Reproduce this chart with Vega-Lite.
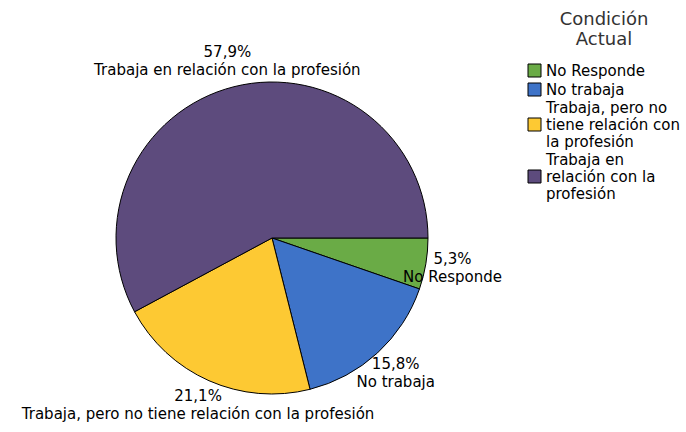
{
  "$schema": "https://vega.github.io/schema/vega-lite/v6.json",
  "autosize": "none",
  "width": 512,
  "height": 388,
  "padding": {"left": 16, "top": 44, "right": 158, "bottom": 0},
  "background": "white",
  "config": {
    "view": {"stroke": null},
    "font": "DejaVu Sans",
    "legend": {
      "labelFont": "DejaVu Sans",
      "titleFont": "DejaVu Sans"
    }
  },
  "data": {
    "values": [
      {"Condicion": "No Responde", "Porcentaje": 5.3, "Etiqueta": "5,3%", "orden": 1},
      {"Condicion": "No trabaja", "Porcentaje": 15.8, "Etiqueta": "15,8%", "orden": 2},
      {"Condicion": "Trabaja, pero no tiene relación con la profesión", "Porcentaje": 21.1, "Etiqueta": "21,1%", "orden": 3},
      {"Condicion": "Trabaja en relación con la profesión", "Porcentaje": 57.9, "Etiqueta": "57,9%", "orden": 4}
    ]
  },
  "encoding": {
    "theta": {"field": "Porcentaje", "type": "quantitative", "stack": true, "scale": {"range": [1.5708, 7.854]}},
    "order": {"field": "orden", "type": "quantitative"}
  },
  "layer": [
    {
      "mark": {"type": "arc", "outerRadius": 156, "stroke": "#000000", "strokeWidth": 1},
      "encoding": {
        "color": {
          "field": "Condicion",
          "type": "nominal",
          "scale": {
            "domain": ["No Responde", "No trabaja", "Trabaja, pero no tiene relación con la profesión", "Trabaja en relación con la profesión"],
            "range": ["#6aab46", "#3e73c8", "#fdc933", "#5d4b7d"]
          },
          "legend": {
            "orient": "none",
            "legendX": 511,
            "legendY": -33,
            "title": ["Condición", "Actual"],
            "titleFontSize": 18,
            "titleFontWeight": "normal",
            "titleColor": "#333333",
            "titleAnchor": "middle",
            "titleAlign": "center",
            "titleLineHeight": 20,
            "titlePadding": 14,
            "titleLimit": 300,
            "symbolType": "square",
            "symbolSize": 169,
            "symbolStrokeColor": "#000000",
            "symbolStrokeWidth": 1,
            "symbolOpacity": 1,
            "labelFontSize": 15,
            "labelColor": "#000000",
            "labelLimit": 300,
            "labelOffset": 4,
            "labelBaseline": "middle",
            "labelLineHeight": 17,
            "rowPadding": 2,
            "labelExpr": "datum.label == 'Trabaja, pero no tiene relación con la profesión' ? ['Trabaja, pero no', 'tiene relación con', 'la profesión'] : datum.label == 'Trabaja en relación con la profesión' ? ['Trabaja en', 'relación con la', 'profesión'] : datum.label",
            "encode": {
              "labels": {
                "update": {
                  "dy": {"signal": "indexof(['Trabaja, pero no tiene relación con la profesión', 'Trabaja en relación con la profesión'], datum.value) >= 0 ? -17 : 0"}
                }
              }
            }
          }
        }
      }
    },
    {
      "mark": {"type": "text", "radius": 183, "dy": -9, "fontSize": 15, "font": "DejaVu Sans", "color": "#000000"},
      "encoding": {"text": {"field": "Etiqueta", "type": "nominal"}}
    },
    {
      "mark": {"type": "text", "radius": 183, "dy": 9, "fontSize": 15, "font": "DejaVu Sans", "color": "#000000"},
      "encoding": {"text": {"field": "Condicion", "type": "nominal"}}
    }
  ]
}
